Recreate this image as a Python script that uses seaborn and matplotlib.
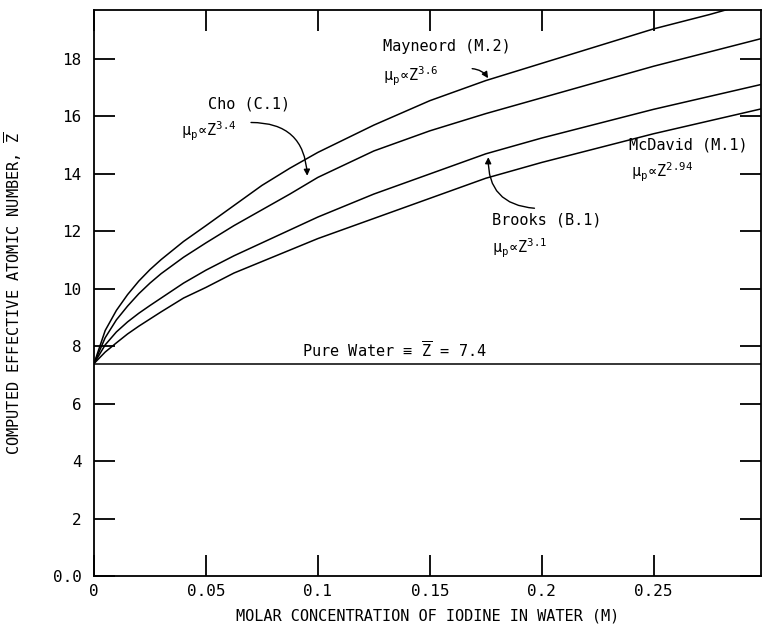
import pandas as pd
import seaborn as sns
import matplotlib.pyplot as plt

# molar concentration of iodine (M)
conc = [0, 0.005, 0.01, 0.015, 0.02, 0.025, 0.03, 0.04, 0.05, 0.0625,
        0.075, 0.0875, 0.1, 0.125, 0.15, 0.175, 0.2, 0.225, 0.25, 0.275, 0.3]

# computed effective atomic number
z_mayneord = [7.4, 8.55, 9.25, 9.8, 10.27, 10.67, 11.02, 11.65, 12.2, 12.9,
              13.6, 14.2, 14.75, 15.7, 16.55, 17.25, 17.85, 18.45, 19.05, 19.55, 20.1]
z_cho = [7.4, 8.3, 8.92, 9.4, 9.83, 10.2, 10.53, 11.1, 11.6, 12.2,
         12.75, 13.3, 13.88, 14.8, 15.5, 16.1, 16.65, 17.2, 17.75, 18.25, 18.75]
z_brooks = [7.4, 8.05, 8.5, 8.85, 9.15, 9.42, 9.68, 10.2, 10.65, 11.15,
            11.6, 12.05, 12.5, 13.3, 14.0, 14.7, 15.25, 15.75, 16.25, 16.7, 17.15]
z_mcdavid = [7.4, 7.8, 8.12, 8.43, 8.7, 8.95, 9.2, 9.68, 10.05, 10.55,
             10.95, 11.35, 11.75, 12.45, 13.15, 13.85, 14.4, 14.9, 15.4, 15.85, 16.3]
water_z = 7.4

x_ticks = [0, 0.05, 0.1, 0.15, 0.2, 0.25]
x_labels = ["0", "0.05", "0.1", "0.15", "0.2", "0.25"]
y_ticks = [0, 2, 4, 6, 8, 10, 12, 14, 16, 18]
y_labels = ["0.0", "2", "4", "6", "8", "10", "12", "14", "16", "18"]

df = pd.concat([
    pd.DataFrame({"conc": conc, "z": z_mayneord, "model": "Mayneord"}),
    pd.DataFrame({"conc": conc, "z": z_cho, "model": "Cho"}),
    pd.DataFrame({"conc": conc, "z": z_brooks, "model": "Brooks"}),
    pd.DataFrame({"conc": conc, "z": z_mcdavid, "model": "McDavid"}),
])

sns.set_style("white")
plt.rcParams['font.family'] = ['DejaVu Sans Mono', 'DejaVu Sans']
plt.rcParams['mathtext.fontset'] = 'custom'
plt.rcParams['mathtext.rm'] = 'DejaVu Sans Mono'
plt.rcParams['mathtext.it'] = 'DejaVu Sans Mono'
plt.rcParams['text.color'] = 'black'
plt.rcParams['axes.labelcolor'] = 'black'

fig = plt.figure(figsize=(7.68, 6.38), dpi=100)
ax = fig.add_axes([0.1224, 0.097, 0.8686, 0.887])

sns.lineplot(data=df, x="conc", y="z", hue="model", estimator=None,
             palette=["black"] * 4, linewidth=1.1, legend=False, ax=ax)
ax.axhline(water_z, color="black", linewidth=1.1)

ax.set_xlim(0, 0.298)
ax.set_ylim(0, 19.7)
ax.set_xticks(x_ticks, x_labels)
ax.set_yticks(y_ticks, y_labels)
ax.tick_params(direction="in", length=15, width=1.3, top=True, right=True,
               bottom=True, left=True, labelsize=11.5, colors="black")
ax.tick_params(axis="y", pad=9)
ax.tick_params(axis="x", pad=6)
for s in ax.spines.values():
    s.set_color("black")
    s.set_linewidth(1.3)

ax.set_xlabel("MOLAR CONCENTRATION OF IODINE IN WATER (M)", fontsize=11)
ax.set_ylabel(r"COMPUTED EFFECTIVE ATOMIC NUMBER, $\overline{\mathrm{Z}}$", fontsize=11)
ax.xaxis.set_label_coords(0.5, -0.058)
ax.yaxis.set_label_coords(-0.105, 0.5)

fs = 11
ax.text(0.129, 18.43, "Mayneord (M.2)", fontsize=fs, ha="left", va="center")
ax.text(0.129, 17.4, r"μ$_\mathrm{p}$∝Z$^\mathrm{3.6}$", fontsize=fs, ha="left", va="center")
ax.text(0.051, 16.42, "Cho (C.1)", fontsize=fs, ha="left", va="center")
ax.text(0.039, 15.48, r"μ$_\mathrm{p}$∝Z$^\mathrm{3.4}$", fontsize=fs, ha="left", va="center")
ax.text(0.239, 15.0, "McDavid (M.1)", fontsize=fs, ha="left", va="center")
ax.text(0.240, 14.05, r"μ$_\mathrm{p}$∝Z$^\mathrm{2.94}$", fontsize=fs, ha="left", va="center")
ax.text(0.178, 12.38, "Brooks (B.1)", fontsize=fs, ha="left", va="center")
ax.text(0.178, 11.4, r"μ$_\mathrm{p}$∝Z$^\mathrm{3.1}$", fontsize=fs, ha="left", va="center")
ax.text(0.093, 7.86, r"Pure Water ≡ $\overline{\mathrm{Z}}$ = 7.4", fontsize=fs,
        ha="left", va="center")

arrow = dict(arrowstyle="-|>", color="black", lw=1.0, mutation_scale=9)
ax.annotate("", xy=(0.1767, 17.25), xytext=(0.1677, 17.67),
            arrowprops=dict(arrow, connectionstyle="arc3,rad=-0.3"))
ax.annotate("", xy=(0.0953, 13.84), xytext=(0.0689, 15.79),
            arrowprops=dict(arrow, connectionstyle="arc3,rad=-0.5"))
ax.annotate("", xy=(0.1762, 14.68), xytext=(0.198, 12.8),
            arrowprops=dict(arrow, connectionstyle="arc3,rad=-0.5"))

plt.savefig("out.png", dpi=100)
plt.close()
